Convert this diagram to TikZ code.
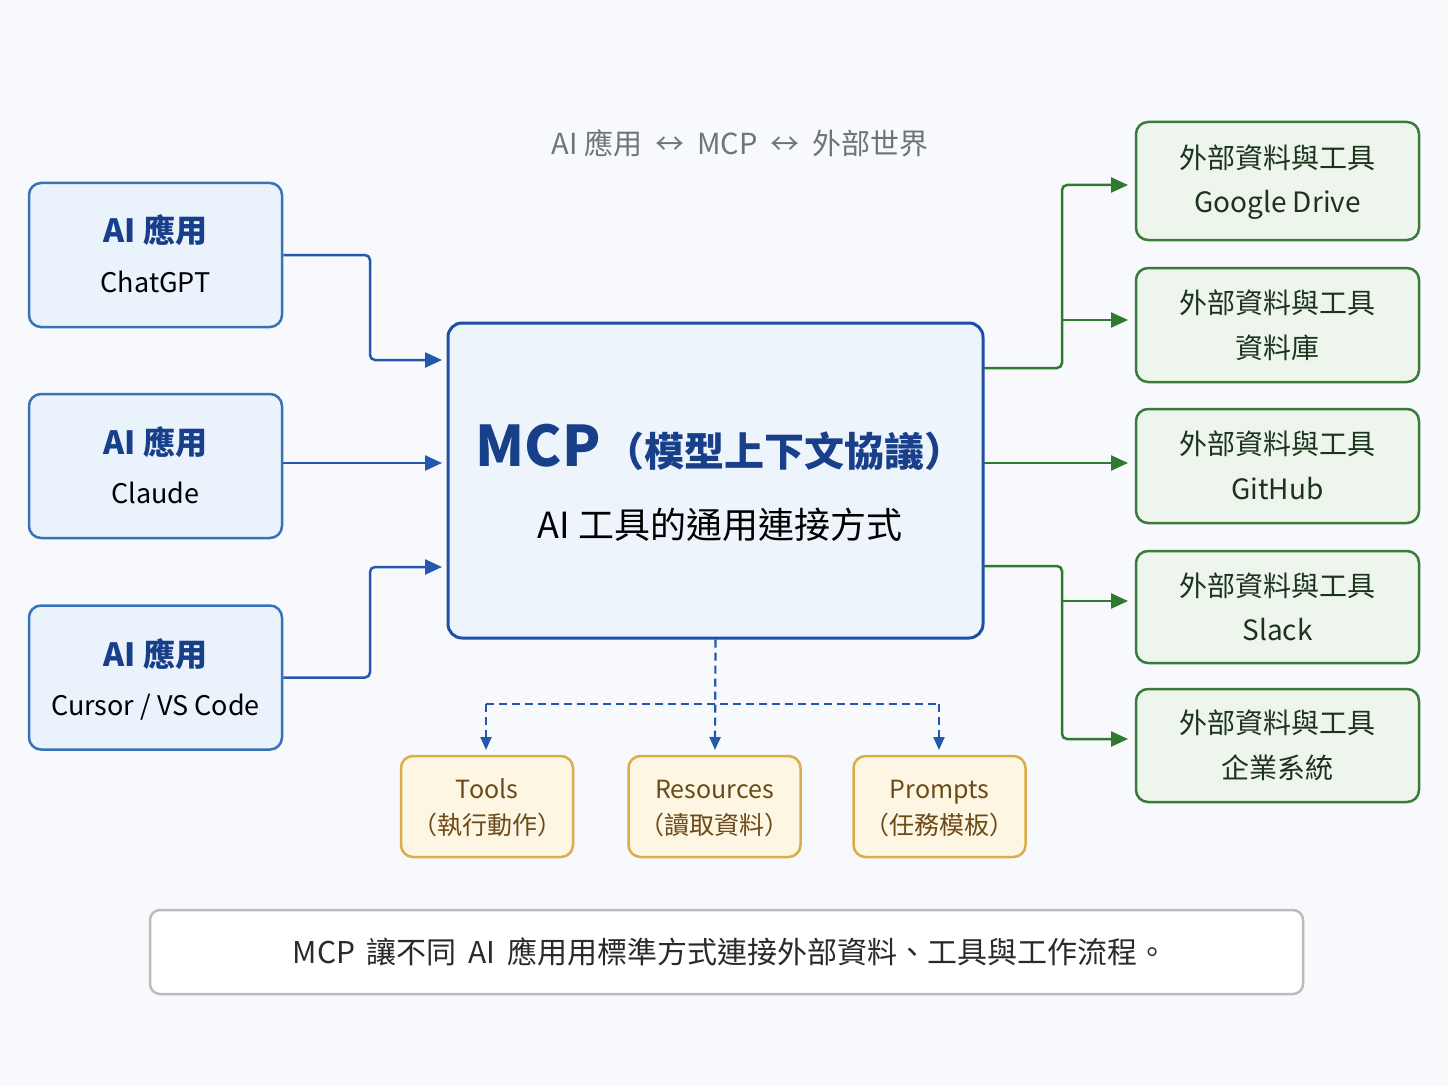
\documentclass[tikz,border=0pt]{standalone}
\usepackage{fontspec}
\setmainfont{Noto Sans CJK TC}
\usetikzlibrary{arrows.meta,positioning,calc}
\definecolor{bgc}{HTML}{F7F9FC}
\definecolor{bluebd}{HTML}{3A72B8}
\definecolor{bluefill}{HTML}{EAF2FB}
\definecolor{bluetxt}{HTML}{173F8A}
\definecolor{bluecon}{HTML}{2358AE}
\definecolor{mcpbd}{HTML}{1E4FA8}
\definecolor{mcpfill}{HTML}{EEF4FB}
\definecolor{greenbd}{HTML}{3A7A3A}
\definecolor{greenfill}{HTML}{EEF5EC}
\definecolor{greencon}{HTML}{2F7A2F}
\definecolor{greentxt}{HTML}{1B341B}
\definecolor{yelbd}{HTML}{D9AE4A}
\definecolor{yelfill}{HTML}{FDF6E3}
\definecolor{yeltxt}{HTML}{6B4A17}
\definecolor{notebd}{HTML}{BDBDBD}
\definecolor{notetxt}{HTML}{2A2A2A}
\definecolor{titlec}{HTML}{6F747A}
\newcommand{\fs}[1]{\fontsize{#1}{#1}\selectfont}
\tikzset{
  appbox/.style={draw=bluebd, fill=bluefill, line width=2.5pt, rounded corners=12pt, minimum width=253pt, minimum height=144pt, inner sep=0pt},
  mcpbox/.style={draw=mcpbd, fill=mcpfill, line width=3pt, rounded corners=14pt, minimum width=535pt, minimum height=315pt, inner sep=0pt},
  extbox/.style={draw=greenbd, fill=greenfill, line width=2.5pt, rounded corners=12pt, minimum width=283pt, inner sep=0pt},
  capbox/.style={draw=yelbd, fill=yelfill, line width=2.5pt, rounded corners=12pt, minimum width=172pt, minimum height=101pt, inner sep=0pt},
  notebox/.style={draw=notebd, fill=white, line width=2.5pt, rounded corners=10pt, minimum width=1153pt, minimum height=84pt, inner sep=0pt},
  bluearrow/.style={draw=bluecon, line width=2.5pt, rounded corners=5pt, -{Triangle[length=17pt,width=15pt]}},
  greenarrow/.style={draw=greencon, line width=2.5pt, rounded corners=5pt, -{Triangle[length=17pt,width=15pt]}},
  dasharrow/.style={draw=bluecon, line width=2.2pt, dash pattern=on 8pt off 5pt, rounded corners=5pt, -{Triangle[length=13pt,width=11pt]}},
  dashline/.style={draw=bluecon, line width=2.2pt, dash pattern=on 8pt off 5pt, rounded corners=5pt},
  apptitle/.style={text=bluetxt, font=\fs{32}\bfseries, inner sep=0pt, text height=25pt, text depth=3pt},
  appsub/.style={text=black, font=\fs{27}, inner sep=0pt, text height=21pt, text depth=4pt},
  exttxt/.style={text=greentxt, font=\fs{28}, inner sep=0pt, text height=22pt, text depth=4pt},
  captxt/.style={text=yeltxt, font=\fs{25}, inner sep=0pt, text height=20pt, text depth=3pt},
}
\begin{document}
\begin{tikzpicture}[x=1pt,y=-1pt]
\useasboundingbox (0,0) rectangle (1448,1086);
\fill[bgc] (0,0) rectangle (1448,1086);

% title
\node[text=titlec, font=\fs{29}, inner sep=0pt] (title) at (740,143) {AI 應用 ~↔~ MCP ~↔~ 外部世界};

% left app boxes
\node[appbox] (a1) at (155.5,255) {};
\node[appbox] (a2) at (155.5,466) {};
\node[appbox] (a3) at (155.5,677.5) {};
\node[apptitle] (a1t) at (155.5,232) {AI 應用};
\node[appsub] (a1s) at (155.5,284) {ChatGPT};
\node[apptitle] (a2t) at (155.5,443) {AI 應用};
\node[appsub] (a2s) at (155.5,495) {Claude};
\node[apptitle] (a3t) at (155.5,655) {AI 應用};
\node[appsub] (a3s) at (155.5,707) {Cursor / VS Code};

% MCP box
\node[mcpbox] (mcp) at (715.5,480.5) {};
\node[text=bluetxt, inner sep=0pt] (mcpt) at (720,447) {{\fs{56}\bfseries MCP}\hspace{4pt}{\fs{40}\bfseries （模型上下文協議）}};
\node[text=black, font=\fs{36}, inner sep=0pt] (mcps) at (720,525) {AI 工具的通用連接方式};

% coordinates at MCP box sides
\coordinate (in1) at (446,360);
\coordinate (in2) at (446,463);
\coordinate (in3) at (446,567);
\coordinate (o1) at (983,368);
\coordinate (o2) at (983,463);
\coordinate (o3) at (983,566);

% left connectors
\draw[bluearrow, shorten >=4pt] (a1.east) -- (370,255) |- (in1);
\draw[bluearrow, shorten >=4pt] (a2.east |- in2) -- (in2);
\draw[bluearrow, shorten >=4pt] (a3.east) -- (370,677.5) |- (in3);

% right ext boxes
\node[extbox, minimum height=118pt] (e1) at (1277.5,181) {};
\node[extbox, minimum height=114pt] (e2) at (1277.5,325) {};
\node[extbox, minimum height=114pt] (e3) at (1277.5,466) {};
\node[extbox, minimum height=112pt] (e4) at (1277.5,607) {};
\node[extbox, minimum height=113pt] (e5) at (1277.5,745.5) {};
\node[exttxt] (e1a) at (1277.5,160) {外部資料與工具};
\node[exttxt] (e1b) at (1277.5,204) {Google Drive};
\node[exttxt] (e2a) at (1277.5,304) {外部資料與工具};
\node[exttxt] (e2b) at (1277.5,349) {資料庫};
\node[exttxt] (e3a) at (1277.5,445) {外部資料與工具};
\node[exttxt] (e3b) at (1277.5,490) {GitHub};
\node[exttxt] (e4a) at (1277.5,587) {外部資料與工具};
\node[exttxt] (e4b) at (1277.5,631) {Slack};
\node[exttxt] (e5a) at (1277.5,724) {外部資料與工具};
\node[exttxt] (e5b) at (1277.5,769) {企業系統};

\coordinate (t1) at (1128,185);
\coordinate (t2) at (1128,320);
\coordinate (t3) at (1128,463);
\coordinate (t4) at (1128,601);
\coordinate (t5) at (1128,739);
\coordinate (j1) at (1062,320);
\coordinate (j2) at (1062,601);

% right connectors
\draw[greenarrow] (o1) -- (1062,368) |- (t1);
\draw[greenarrow] (j1) -- (t2);
\draw[greenarrow] (o2) -- (t3);
\draw[greenarrow] (o3) -- (1062,566) |- (t5);
\draw[greenarrow] (j2) -- (t4);

% capability boxes
\node[capbox] (c1) at (487,806.5) {};
\node[capbox] (c2) at (714.5,806.5) {};
\node[capbox] (c3) at (939.5,806.5) {};
\node[captxt] (c1a) at (487,790) {Tools};
\node[captxt] (c1b) at (487,826) {（執行動作）};
\node[captxt] (c2a) at (714.5,790) {Resources};
\node[captxt] (c2b) at (714.5,826) {（讀取資料）};
\node[captxt] (c3a) at (939.5,790) {Prompts};
\node[captxt] (c3b) at (939.5,826) {（任務模板）};

\coordinate (d1) at (486,750);
\coordinate (d2) at (715,750);
\coordinate (d3) at (939,750);
\draw[dasharrow] (mcp.south) -- (d2);
\draw[dashline] (486,704) -- (939,704);
\draw[dasharrow] (486,704) -- (d1);
\draw[dasharrow] (939,704) -- (d3);

% note
\node[notebox] (note) at (726.5,952) {};
\node[text=notetxt, font=\fs{30}, inner sep=0pt] (notet) at (730,952) {MCP \,讓不同 \,AI \,應用用標準方式連接外部資料、工具與工作流程。};
\end{tikzpicture}
\end{document}
